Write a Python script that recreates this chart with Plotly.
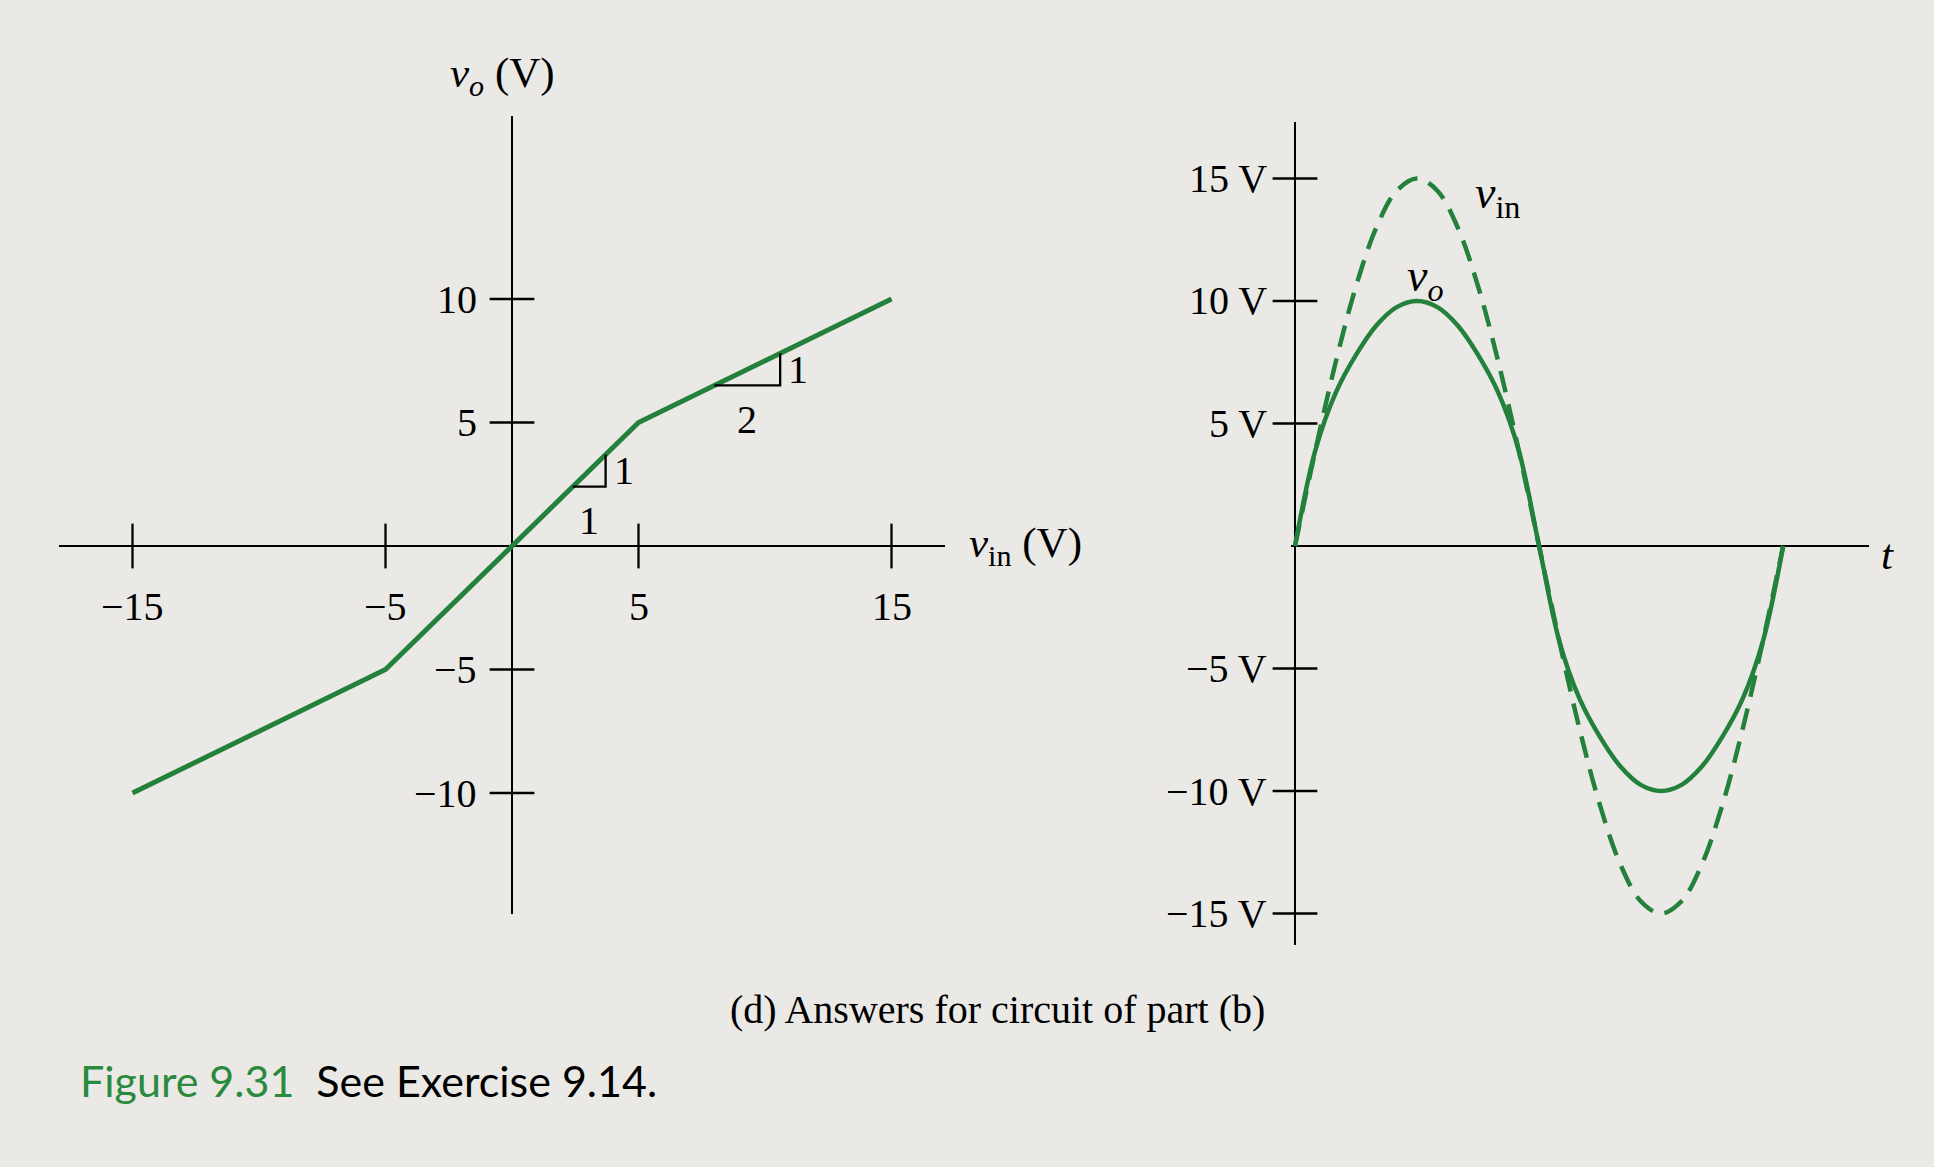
import numpy as np
import plotly.graph_objects as go

# ---------------- data ----------------
# (a) transfer characteristic v_o versus v_in
vin_tc = [-15, -5, 5, 15]
vo_tc = [-10, -5, 5, 10]
left_xticks = [-15, -5, 5, 15]
left_xlabels = ["\u221215", "\u22125", "5", "15"]
left_yticks = [-10, -5, 5, 10]
left_ylabels = ["\u221210", "\u22125", "5", "10"]
# slope triangles: start of base, run length, slope labels (rise, run)
tri_start = [2.4, 8.0]
tri_run = [1.3, 2.6]
tri_rise_label = ["1", "1"]
tri_run_label = ["1", "2"]

# (b) waveforms, phase in degrees
t_deg = [0, 15, 30, 45, 60, 75, 90, 105, 120, 135, 150, 165, 180,
         195, 210, 225, 240, 255, 270, 285, 300, 315, 330, 345, 360]
vin_wave = [0, 3.9, 7.5, 10.6, 13.0, 14.5, 15.0, 14.5, 13.0, 10.6, 7.5, 3.9, 0,
            -3.9, -7.5, -10.6, -13.0, -14.5, -15.0, -14.5, -13.0, -10.6, -7.5, -3.9, 0]
vo_wave = [0, 3.9, 6.25, 7.8, 9.0, 9.75, 10.0, 9.75, 9.0, 7.8, 6.25, 3.9, 0,
           -3.9, -6.25, -7.8, -9.0, -9.75, -10.0, -9.75, -9.0, -7.8, -6.25, -3.9, 0]
right_yticks = [-15, -10, -5, 5, 10, 15]
right_ylabels = ["\u221215 V", "\u221210 V", "\u22125 V", "5 V", "10 V", "15 V"]

# ---------------- styling / layout ----------------
W, H = 1934, 1167
GREEN = "#23813c"
BG = "#eae9e5"
SERIF = "Liberation Serif"
TICK_FS = 40
TITLE_FS = 43

# pixel geometry
L_ORIG = (512, 546); L_SX = 25.3; L_SY = 24.7
L_XR = [-17.9, 17.1]; L_YR = [-14.9, 17.4]
R_ORIG = (1295, 546); R_SX = 1.356; R_SY = 24.5
R_XR = [-3, 423]; R_YR = [-16.3, 17.3]

def dom_x(orig, sx, rng):
    return [(orig[0] + sx * rng[0]) / W, (orig[0] + sx * rng[1]) / W]

def dom_y(orig, sy, rng):
    top = orig[1] - sy * rng[1]
    bot = orig[1] - sy * rng[0]
    return [1 - bot / H, 1 - top / H]

def tfont(size=TICK_FS):
    return dict(family=SERIF, size=size, color="black")

fig = go.Figure()

# --- left: transfer characteristic ---
fig.add_trace(go.Scatter(x=vin_tc, y=vo_tc, mode="lines",
                         line=dict(color=GREEN, width=5),
                         xaxis="x", yaxis="y", hoverinfo="skip"))

# slope triangles built from the characteristic
tx, ty = [], []
ann = []
for s, r, rl, nl in zip(tri_start, tri_run, tri_rise_label, tri_run_label):
    y0 = float(np.interp(s, vin_tc, vo_tc))
    y1 = float(np.interp(s + r, vin_tc, vo_tc))
    tx += [s, s + r, s + r, None]
    ty += [y0, y0, y1, None]
    ann.append(dict(x=s + r / 2, y=y0, xref="x", yref="y", text=nl, showarrow=False,
                    yanchor="middle", yshift=-34, font=tfont()))
    ann.append(dict(x=s + r, y=(y0 + y1) / 2, xref="x", yref="y", text=rl, showarrow=False,
                    xanchor="left", yanchor="middle", xshift=6, font=tfont()))
fig.add_trace(go.Scatter(x=tx, y=ty, mode="lines", line=dict(color="black", width=2.3),
                         xaxis="x", yaxis="y", hoverinfo="skip"))

# ticks (crossing)
fig.add_trace(go.Scatter(x=left_xticks, y=[0] * len(left_xticks), mode="markers",
                         marker=dict(symbol="line-ns", size=32, line=dict(color="black", width=2.3)),
                         xaxis="x", yaxis="y", cliponaxis=False, hoverinfo="skip"))
fig.add_trace(go.Scatter(x=[0] * len(left_yticks), y=left_yticks, mode="markers",
                         marker=dict(symbol="line-ew", size=32, line=dict(color="black", width=2.3)),
                         xaxis="x", yaxis="y", cliponaxis=False, hoverinfo="skip"))
for v, lab in zip(left_xticks, left_xlabels):
    ann.append(dict(x=v, y=0, xref="x", yref="y", text=lab, showarrow=False,
                    yanchor="middle", yshift=-60, font=tfont()))
for v, lab in zip(left_yticks, left_ylabels):
    ann.append(dict(x=0, y=v, xref="x", yref="y", text=lab, showarrow=False,
                    xanchor="right", yanchor="middle", xshift=-33, font=tfont()))

# axis titles left
ann.append(dict(x=0, y=L_YR[1], xref="x", yref="y", text="<i>v</i><sub><i>o</i></sub> (V)",
                showarrow=False, yanchor="middle", yshift=40, xshift=-10, font=tfont(TITLE_FS)))
ann.append(dict(x=L_XR[1], y=0, xref="x", yref="y", text="<i>v</i><sub>in</sub> (V)",
                showarrow=False, xanchor="left", yanchor="middle", xshift=22, yshift=0,
                font=tfont(TITLE_FS)))

# --- right: waveforms ---
fig.add_trace(go.Scatter(x=t_deg, y=vin_wave, mode="lines",
                         line=dict(color=GREEN, width=4.5, dash="22px,12px", shape="spline", smoothing=1.0),
                         xaxis="x2", yaxis="y2", hoverinfo="skip"))
fig.add_trace(go.Scatter(x=t_deg, y=vo_wave, mode="lines",
                         line=dict(color=GREEN, width=4.5, shape="spline", smoothing=1.0),
                         xaxis="x2", yaxis="y2", hoverinfo="skip"))
fig.add_trace(go.Scatter(x=[0] * len(right_yticks), y=right_yticks, mode="markers",
                         marker=dict(symbol="line-ew", size=32, line=dict(color="black", width=2.3)),
                         xaxis="x2", yaxis="y2", cliponaxis=False, hoverinfo="skip"))
for v, lab in zip(right_yticks, right_ylabels):
    ann.append(dict(x=0, y=v, xref="x2", yref="y2", text=lab, showarrow=False,
                    xanchor="right", yanchor="middle", xshift=-26, font=tfont()))
ann.append(dict(x=R_XR[1], y=0, xref="x2", yref="y2", text="<i>t</i>", showarrow=False,
                xanchor="left", yanchor="middle", xshift=10, yshift=-8, font=tfont(TITLE_FS)))
ann.append(dict(x=149, y=14.3, xref="x2", yref="y2", text="<i>v</i><sub>in</sub>", showarrow=False,
                yanchor="middle", font=tfont(46)))
ann.append(dict(x=96, y=10.9, xref="x2", yref="y2", text="<i>v</i><sub><i>o</i></sub>", showarrow=False,
                yanchor="middle", font=tfont(46)))

# captions
ann.append(dict(x=997 / W, y=1 - 1009 / H, xref="paper", yref="paper",
                xanchor="center", yanchor="middle",
                text="(d) Answers for circuit of part (b)", showarrow=False,
                font=tfont(40)))
ann.append(dict(x=78 / W, y=1 - 1080 / H, xref="paper", yref="paper",
                xanchor="left", yanchor="middle",
                text="<span style='color:#2a8a3e'>Figure 9.31</span>&nbsp; See Exercise 9.14.",
                showarrow=False, font=dict(family="Lato", size=43, color="black")))

axis_common = dict(showgrid=False, showticklabels=False, ticks="", showline=False,
                   zeroline=True, zerolinecolor="black", zerolinewidth=2.3, fixedrange=True)

fig.update_layout(
    width=W, height=H, margin=dict(l=0, r=0, t=0, b=0),
    paper_bgcolor=BG, plot_bgcolor="rgba(0,0,0,0)", showlegend=False,
    xaxis=dict(domain=dom_x(L_ORIG, L_SX, L_XR), range=L_XR, anchor="y", **axis_common),
    yaxis=dict(domain=dom_y(L_ORIG, L_SY, L_YR), range=L_YR, anchor="x", **axis_common),
    xaxis2=dict(domain=dom_x(R_ORIG, R_SX, R_XR), range=R_XR, anchor="y2", **axis_common),
    yaxis2=dict(domain=dom_y(R_ORIG, R_SY, R_YR), range=R_YR, anchor="x2", **axis_common),
    annotations=ann,
)

fig.write_html("out.html")
